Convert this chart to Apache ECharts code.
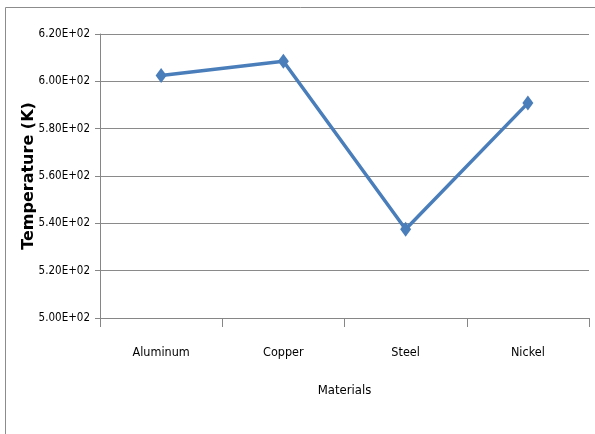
<!DOCTYPE html>
<html>
<head>
<meta charset="utf-8">
<script src="https://cdn.jsdelivr.net/npm/echarts@6/dist/echarts.min.js"></script>
<style>
  html, body { margin: 0; padding: 0; background: #fff; }
  #chart { width: 595px; height: 434px; }
</style>
</head>
<body>
<div id="chart"></div>
<script>
// Materials and their temperatures (K)
const materials = ['Aluminum', 'Copper', 'Steel', 'Nickel'];
const temperatures = [602.5, 608.5, 537.5, 590.8];

// Y axis range and step
const yMin = 500;
const yMax = 620;
const yStep = 20;

const chart = echarts.init(document.getElementById('chart'), null, { renderer: 'canvas' });

const narrow = '"DejaVu Sans Condensed", "Liberation Sans Narrow", sans-serif';

chart.setOption({
  animation: false,
  backgroundColor: '#ffffff',
  graphic: [
    // chart frame (left and top edges)
    { type: 'line', shape: { x1: 5.5, y1: 7.5, x2: 5.5, y2: 434 }, style: { stroke: '#8c8c8c', lineWidth: 1 } },
    { type: 'line', shape: { x1: 5.5, y1: 7.5, x2: 595, y2: 7.5 }, style: { stroke: '#8c8c8c', lineWidth: 1 } }
  ],
  grid: { left: 100, right: 6, top: 34, bottom: 116, containLabel: false },
  xAxis: {
    type: 'category',
    data: materials,
    boundaryGap: true,
    name: 'Materials',
    nameLocation: 'middle',
    nameGap: 66,
    nameMoveOverlap: false,
    nameTextStyle: { fontFamily: narrow, fontSize: 13, color: '#000' },
    axisLine: { show: true, lineStyle: { color: '#868686', width: 1 } },
    axisTick: { show: true, length: 9, alignWithLabel: false, lineStyle: { color: '#868686' } },
    axisLabel: { fontFamily: narrow, fontSize: 12.5, color: '#000', margin: 28 },
    splitLine: { show: false }
  },
  yAxis: {
    type: 'value',
    min: yMin,
    max: yMax,
    interval: yStep,
    name: 'Temperature (K)',
    nameLocation: 'middle',
    nameGap: 63,
    nameMoveOverlap: false,
    nameRotate: 90,
    nameTextStyle: { fontFamily: '"DejaVu Sans", sans-serif', fontWeight: 'bold', fontSize: 16, color: '#000' },
    axisLine: { show: true, lineStyle: { color: '#868686', width: 1 } },
    axisTick: { show: true, length: 5, lineStyle: { color: '#868686' } },
    axisLabel: {
      fontFamily: narrow, fontSize: 11.5, color: '#000', margin: 10,
      formatter: v => {
        const e = Math.floor(Math.log10(v));
        const m = (v / Math.pow(10, e)).toFixed(2);
        return m + 'E+' + String(e).padStart(2, '0');
      }
    },
    splitLine: { show: true, lineStyle: { color: '#8a8a8a', width: 1 } }
  },
  series: [{
    type: 'line',
    data: temperatures,
    symbol: 'diamond',
    symbolSize: [11, 15],
    lineStyle: { color: '#4a7ebb', width: 3.5 },
    itemStyle: { color: '#4a7ebb' }
  }]
});
</script>
</body>
</html>
